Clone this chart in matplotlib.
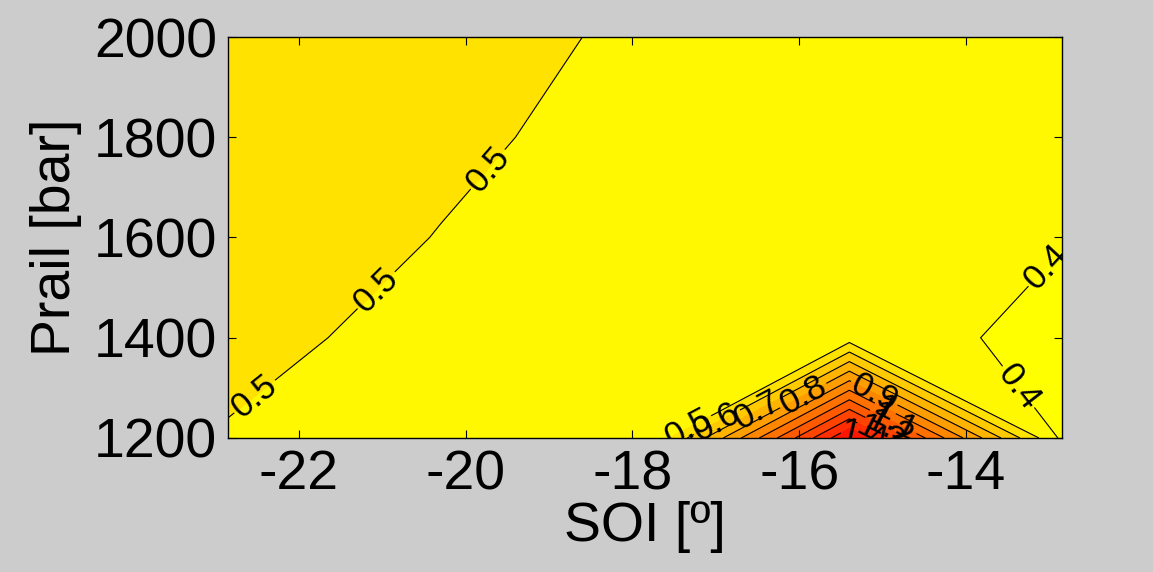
import numpy as np
import matplotlib.pyplot as plt
from matplotlib.colors import Normalize

plt.rcParams['font.family'] = ['Liberation Sans', 'DejaVu Sans']

# grid of the map
soi = [-22.85, -20.3, -17.75, -15.4, -12.85]
prail = [1200, 1400, 1600, 1800, 2000]
# one row per Prail value, one column per SOI value
z_1200 = [0.490, 0.450, 0.412, 1.500, 0.378]
z_1400 = [0.540, 0.455, 0.460, 0.450, 0.369]
z_1600 = [0.555, 0.497, 0.470, 0.440, 0.4044]
z_1800 = [0.570, 0.519, 0.465, 0.450, 0.420]
z_2000 = [0.580, 0.540, 0.480, 0.460, 0.430]

line_levels = [0.4, 0.5, 0.6, 0.7, 0.8, 0.9, 1.0, 1.1, 1.2, 1.3, 1.4]

# where the contour labels sit (level, SOI, Prail)
label_level = [0.5, 0.5, 0.5, 0.4, 0.4, 0.5, 0.6, 0.7, 0.8, 0.9, 1.0, 1.1, 1.2, 1.3, 1.4]
label_soi = [-22.45, -21.05, -19.7, -13.0, -13.45, -17.35, -17.0, -16.5, -15.95,
             -15.1, -14.95, -14.85, -14.95, -15.0, -15.2]
label_prail = [1266, 1491, 1731, 1535, 1292, 1225, 1235, 1255, 1284,
               1290, 1265, 1240, 1210, 1215, 1212]

Z = np.array([z_1200, z_1400, z_1600, z_1800, z_2000])
X, Y = np.meshgrid(soi, prail)

cmap = plt.get_cmap('autumn_r')
norm = Normalize(vmin=Z.min(), vmax=Z.max())
fill_levels = [Z.min() - 0.01] + line_levels + [Z.max() + 0.01]
# matlab style: each band takes the colour of its lower level
band_colors = [cmap(norm(max(l, Z.min()))) for l in fill_levels[:-1]]

fig = plt.figure(figsize=(11.53, 5.72), dpi=100, facecolor='#cccccc')
ax = fig.add_axes([0.1977, 0.2343, 0.7234, 0.701])

ax.contourf(X, Y, Z, levels=fill_levels, colors=band_colors)

# one contour set per level so every label lands on its own line
for lev in line_levels:
    cs = ax.contour(X, Y, Z, levels=[lev], colors='k', linewidths=0.8)
    pos = [(s, p) for l, s, p in zip(label_level, label_soi, label_prail) if l == lev]
    if pos:
        ax.clabel(cs, manual=pos, inline=True, inline_spacing=2, fontsize=25,
                  fmt='%g', colors='k')

ax.set_xlim(-22.85, -12.85)
ax.set_ylim(1200, 2000)
ax.set_xticks([-22, -20, -18, -16, -14])
ax.set_yticks([1200, 1400, 1600, 1800, 2000])
ax.tick_params(direction='in', length=6, width=0.8, top=True, right=True,
               labelsize=40, pad=8)
ax.set_xticklabels(['-22', '-20', '-18', '-16', '-14'])
ax.set_xlabel('SOI [º]', fontsize=40, labelpad=0)
ax.set_ylabel('Prail [bar]', fontsize=40, labelpad=8)
for s in ax.spines.values():
    s.set_linewidth(1.0)

fig.savefig('out.png', dpi=100, facecolor=fig.get_facecolor())
